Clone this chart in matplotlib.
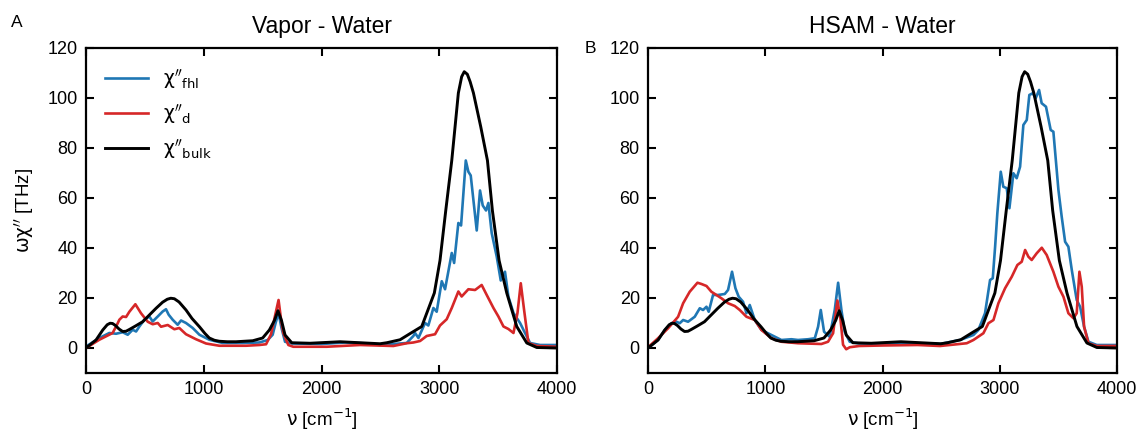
import matplotlib
matplotlib.use("Agg")
import matplotlib.pyplot as plt

plt.rcParams["font.family"] = ["Liberation Sans", "DejaVu Sans"]
plt.rcParams["mathtext.fontset"] = "dejavusans"

# bulk water spectrum (same in both panels)
bulk_x = [0, 85, 142, 180, 204, 225, 250, 280, 311, 340, 368, 420, 481, 540, 595, 650,
          690, 720, 750, 790, 849, 900, 963, 1010, 1047, 1090, 1132, 1200,
          1274, 1416, 1500, 1557, 1600, 1630, 1660, 1690, 1747, 1903, 2157, 2327,
          2497, 2554, 2667, 2760, 2851, 2958, 3006, 3055, 3106, 3134, 3162, 3190,
          3212, 3238, 3262, 3290, 3352, 3409, 3451, 3508, 3573, 3658, 3743, 3828, 4000]
bulk_y = [0, 3.2, 7.2, 9.3, 9.9, 9.8, 9.0, 7.6, 6.6, 6.7, 7.4, 8.8, 10.5, 13.3, 15.9, 18.3,
          19.5, 19.9, 19.7, 18.4, 15.2, 11.8, 8.5, 5.8, 4.0, 3.1, 2.7, 2.5,
          2.5, 2.9, 4.0, 7.2, 11.0, 14.9, 11.0, 5.2, 2.1, 1.9, 2.5, 2.1,
          1.7, 2.1, 3.3, 6.0, 8.6, 22.0, 35.0, 55.0, 75.0, 88.5, 102.0, 108.5,
          110.5, 109.5, 106.5, 102.0, 88.5, 75.0, 55.0, 35.0, 22.0, 8.6, 2.0, 0.2, 0]

# vapor - water
vap_fhl_x = [0, 113, 198, 255, 311, 354, 396, 425, 453, 495, 538, 566, 609, 651, 679,
             702, 736, 778, 807, 849, 906, 963, 1047, 1161, 1330, 1472, 1543, 1585,
             1610, 1635, 1660, 1690, 1750, 2000, 2200, 2400, 2497, 2723, 2780, 2794,
             2823, 2879, 2907, 2950, 2978, 3021, 3049, 3106, 3126, 3162, 3185, 3225,
             3247, 3267, 3318, 3346, 3369, 3397, 3417, 3445, 3488, 3522, 3558, 3587,
             3630, 3686, 3728, 3771, 3856, 4000]
vap_fhl_y = [0.6, 4, 6, 5.7, 6.3, 5.3, 7.3, 6.6, 8.6, 11.3, 12.6, 10.6, 12.6, 14.6, 15.5,
             13.3, 11.3, 9.3, 11, 10, 8, 5.3, 3.3, 2, 2, 2.2, 3.2, 5.3,
             10, 14, 8, 2.5, 1.8, 1.6, 2.2, 1.8, 1.2, 2, 4.8, 6,
             4, 10, 9, 16, 14.5, 26.7, 23.5, 38, 34, 50, 49, 75,
             70.5, 69, 47, 63, 57, 55, 58, 46, 36.5, 27, 30.5, 20.5,
             14, 10, 6, 2, 1.2, 1.2]

vap_d_x = [0, 113, 226, 269, 283, 311, 340, 368, 419, 467, 524, 566, 609, 637, 694,
           750, 792, 849, 934, 1019, 1132, 1359, 1472, 1529, 1571, 1608, 1635, 1660,
           1676, 1718, 1760, 2044, 2327, 2610, 2723, 2780, 2837, 2893, 2964, 3006,
           3063, 3106, 3162, 3190, 3247, 3304, 3360, 3403, 3460, 3502, 3545, 3587,
           3630, 3664, 3692, 3720, 3757, 3828, 4000]
vap_d_y = [0, 3.3, 6, 9.9, 11.3, 12.6, 12.4, 14.5, 17.5, 13.9, 10.5, 9.5, 10, 8.5, 9.2,
           7.5, 8, 5.5, 3.5, 1.8, 0.9, 0.9, 1.2, 1.5, 5.5, 13.5, 19.2, 10,
           5.9, 1.2, 0.5, 0.5, 1.2, 0.8, 1.9, 2.2, 2.8, 4.8, 5.5, 9,
           11.5, 16, 22.6, 20.6, 23.5, 23.2, 25.2, 21.2, 16, 12.6, 8.6, 7.6,
           6, 14, 25.9, 15.3, 2, 0.8, 0.5]

# HSAM - water
hsam_fhl_x = [0, 85, 142, 199, 242, 270, 299, 341, 398, 441, 469, 498, 517, 554, 597,
              654, 682, 716, 745, 773, 810, 839, 867, 910, 967, 1052, 1137, 1222, 1279,
              1365, 1422, 1450, 1473, 1501, 1549, 1592, 1621, 1649, 1677, 1720, 1800,
              2000, 2200, 2400, 2490, 2661, 2775, 2817, 2874, 2917, 2940, 2960, 2979,
              3008, 3030, 3059, 3082, 3116, 3144, 3173, 3201, 3230, 3252, 3281, 3306,
              3335, 3357, 3394, 3434, 3457, 3500, 3528, 3557, 3585, 3614, 3656, 3685,
              3719, 3756, 3827, 4000]
hsam_fhl_y = [0, 3.2, 7.2, 9.9, 10.5, 9.9, 11.2, 10.5, 12.5, 15.9, 15.2, 16.5, 14.5, 21.2, 21.2,
              21.6, 23.2, 30.5, 23.9, 20.5, 18.5, 13.9, 17.2, 11.2, 7.2, 5.2, 3.2, 3.5, 3.2,
              3.5, 3.9, 8.5, 15.2, 6.5, 4.5, 15.2, 26.1, 15.2, 6.5, 2.5, 1.8,
              1.6, 2.0, 1.8, 1.6, 3.2, 5.2, 7.2, 13.9, 27.2, 27.9, 40.5, 53.9,
              70.5, 64.5, 63.9, 55.9, 69.9, 67.9, 72.5, 89.2, 91.2, 101.2, 101.9, 99.9,
              103.2, 97.9, 96.5, 87.2, 86.5, 63.2, 52.5, 42.5, 40.5, 31.2, 19.2, 16.5,
              8.5, 2.5, 1.2, 1.2]

hsam_d_x = [0, 85, 171, 256, 299, 355, 421, 455, 498, 540, 583, 625, 682, 739, 782,
            839, 910, 967, 1052, 1137, 1279, 1478, 1535, 1578, 1615, 1640, 1663, 1690,
            1720, 1800, 2000, 2300, 2490, 2718, 2775, 2860, 2903, 2946, 2988, 3045,
            3102, 3150, 3187, 3216, 3244, 3272, 3315, 3358, 3400, 3457, 3500, 3543,
            3585, 3628, 3656, 3679, 3699, 3719, 3756, 3827, 4000]
hsam_d_y = [0.3, 3.9, 7.9, 12.5, 17.9, 22.5, 26.1, 25.6, 24.8, 22.5, 21.2, 19.9, 17.9, 16.8, 15.2,
            12.5, 11.2, 7.2, 3.9, 2.5, 1.9, 1.6, 2.5, 5.9, 19, 12, 1.3, -0.5,
            0.3, 0.8, 1.0, 1.2, 0.8, 1.9, 3.2, 5.9, 9.9, 11.2, 17.9, 23.9,
            28.5, 33.2, 34.5, 39.2, 36.5, 35.2, 37.9, 40.1, 37.2, 30.5, 24.5, 20.5,
            13.9, 11.9, 13.9, 30.5, 24.5, 8.5, 1.9, 0.8, 0.8]

BLUE = "#1f77b4"
RED = "#d62728"

panels = [
    ("Vapor - Water", vap_fhl_x, vap_fhl_y, vap_d_x, vap_d_y),
    ("HSAM - Water", hsam_fhl_x, hsam_fhl_y, hsam_d_x, hsam_d_y),
]

fig = plt.figure(figsize=(11.41, 4.36), dpi=100)
rects = [[0.0754, 0.1445, 0.4128, 0.7455], [0.568, 0.1445, 0.4110, 0.7455]]

axes = []
for rect, (title, fx, fy, dx, dy) in zip(rects, panels):
    ax = fig.add_axes(rect)
    ax.plot(fx, fy, color=BLUE, lw=1.9, label=r"$\mathrm{\chi}''_{\mathrm{fhl}}$")
    ax.plot(dx, dy, color=RED, lw=1.9, label=r"$\mathrm{\chi}''_{\mathrm{d}}$")
    ax.plot(bulk_x, bulk_y, color="black", lw=2.1, label=r"$\mathrm{\chi}''_{\mathrm{bulk}}$")
    ax.set_xlim(0, 4000)
    ax.set_ylim(-10, 120)
    ax.set_xticks([0, 1000, 2000, 3000, 4000])
    ax.set_yticks([0, 20, 40, 60, 80, 100, 120])
    ax.tick_params(direction="in", top=True, right=True, length=6, width=1.5,
                   labelsize=13, pad=6)
    for s in ax.spines.values():
        s.set_linewidth(1.6)
    ax.set_title(title, fontsize=16.5, pad=11)
    ax.set_xlabel(r"$\mathrm{\nu}$ [cm$^{\mathrm{-1}}$]", fontsize=13.5, labelpad=6)
    axes.append(ax)

axes[0].set_ylabel(r"$\mathrm{\omega\chi}''$ [THz]", fontsize=13.5, labelpad=8)
axes[0].legend(loc="upper left", frameon=False, fontsize=13.5, handlelength=2.3,
               labelspacing=0.6, borderaxespad=0.6)

fig.text(0.010, 0.965, "A", fontsize=12.5, va="top")
fig.text(0.512, 0.905, "B", fontsize=12.5, va="top")

fig.savefig("out.png", dpi=100)
